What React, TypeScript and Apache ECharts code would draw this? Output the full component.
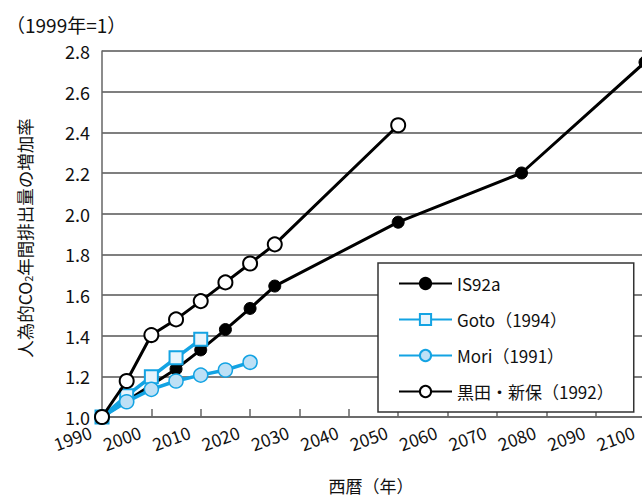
import React, { useEffect, useRef } from "react";
import * as echarts from "echarts";

const FONT = '"Noto Sans CJK JP", "Noto Sans", sans-serif';

const seriesNames = ["IS92a", "Goto（1994）", "Mori（1991）", "黒田・新保（1992）"];

const is92aYears = [1990, 2005, 2010, 2015, 2020, 2025, 2050, 2075, 2100];
const is92aValues = [1.0, 1.236, 1.33, 1.43, 1.534, 1.644, 1.958, 2.2, 2.745];

const gotoYears = [1990, 1995, 2000, 2005, 2010];
const gotoValues = [1.0, 1.105, 1.198, 1.291, 1.382];

const moriYears = [1990, 1995, 2000, 2005, 2010, 2015, 2020];
const moriValues = [1.0, 1.075, 1.136, 1.177, 1.206, 1.231, 1.269];

const kurodaYears = [1990, 1995, 2000, 2005, 2010, 2015, 2020, 2025, 2050];
const kurodaValues = [1.0, 1.177, 1.403, 1.48, 1.57, 1.662, 1.755, 1.849, 2.435];

const xMin = 1990;
const xMax = 2100;
const xStep = 10;
const yMin = 1.0;
const yMax = 2.8;
const yStep = 0.2;

const yTitle = "（1999年=1）";
const xName = "西暦（年）";

const pair = (xs: number[], ys: number[]) => xs.map((x, i) => [x, ys[i]]);

export default function App() {
  const ref = useRef<HTMLDivElement>(null);
  useEffect(() => {
    if (!ref.current) return;
    const chart = echarts.init(ref.current, null, { renderer: "svg" });
    const cyan = "#13a3e3";
    chart.setOption({
      animation: false,
      backgroundColor: "#ffffff",
      textStyle: { fontFamily: FONT },
      grid: { left: 102, right: -3, top: 51, bottom: 80, outerBoundsMode: "none", containLabel: false },
      xAxis: {
        type: "value",
        min: xMin,
        max: xMax,
        interval: xStep,
        axisLine: { show: true, lineStyle: { color: "#666", width: 1.5 } },
        axisTick: { show: true, inside: true, length: 8, lineStyle: { color: "#666", width: 1.5 } },
        splitLine: { show: false },
        axisLabel: {
          rotate: 20,
          fontSize: 17.5,
          color: "#111",
          fontFamily: FONT,
          margin: 10,
          padding: [15, 12, 0, 0],
          hideOverlap: false,
          formatter: (v: number) => String(v),
        },
      },
      yAxis: {
        type: "value",
        min: yMin,
        max: yMax,
        interval: yStep,
        axisLine: { show: true, lineStyle: { color: "#666", width: 1.5 } },
        axisTick: { show: false },
        splitLine: { show: true, lineStyle: { color: "#555", width: 1.5 } },
        axisLabel: {
          fontSize: 18,
          color: "#111",
          fontFamily: FONT,
          margin: 12,
          formatter: (v: number) => v.toFixed(1),
        },
      },
      legend: {
        orient: "vertical",
        left: 378,
        top: 263,
        backgroundColor: "#fff",
        borderColor: "#333",
        borderWidth: 1.5,
        padding: [12, 20, 12, 20],
        itemWidth: 53,
        itemHeight: 14,
        itemGap: 19,
        textStyle: { fontSize: 17, color: "#111", fontFamily: FONT },
        data: seriesNames,
      },
      graphic: [
        {
          type: "text",
          left: 6,
          top: 15,
          style: { text: yTitle, fontSize: 19, fill: "#111", fontFamily: FONT },
        },
        {
          type: "text",
          x: 23,
          y: 238,
          rotation: Math.PI / 2,
          style: {
            text: "{a|人為的CO}{s|2}{a|年間排出量の増加率}",
            align: "center",
            verticalAlign: "middle",
            fontFamily: FONT,
            rich: {
              a: { fontSize: 17.5, fill: "#111", fontFamily: FONT, lineHeight: 20, verticalAlign: "bottom" },
              s: { fontSize: 11, fill: "#111", fontFamily: FONT, lineHeight: 20, verticalAlign: "bottom" },
            },
          },
        },
        {
          type: "text",
          x: 371,
          y: 485,
          style: { text: xName, fontSize: 17, fill: "#111", fontFamily: FONT, align: "center", verticalAlign: "middle" },
        },
      ],
      series: [
        {
          name: seriesNames[0],
          type: "line",
          data: pair(is92aYears, is92aValues),
          symbol: "circle",
          symbolSize: 12,
          lineStyle: { color: "#000", width: 3 },
          itemStyle: { color: "#000", borderColor: "#000", borderWidth: 1 },
          z: 2,
        },
        {
          name: seriesNames[1],
          type: "line",
          data: pair(gotoYears, gotoValues),
          symbol: "rect",
          symbolSize: 13,
          lineStyle: { color: cyan, width: 3.5 },
          itemStyle: { color: "#e8f4fc", borderColor: cyan, borderWidth: 2 },
          z: 3,
        },
        {
          name: seriesNames[2],
          type: "line",
          data: pair(moriYears, moriValues),
          symbol: "circle",
          symbolSize: 14,
          lineStyle: { color: cyan, width: 3.5 },
          itemStyle: { color: "#bde0f6", borderColor: cyan, borderWidth: 1.5 },
          z: 4,
        },
        {
          name: seriesNames[3],
          type: "line",
          data: pair(kurodaYears, kurodaValues),
          symbol: "circle",
          symbolSize: 14,
          lineStyle: { color: "#000", width: 3 },
          itemStyle: { color: "#fff", borderColor: "#000", borderWidth: 2 },
          z: 5,
        },
      ],
    });
    return () => chart.dispose();
  }, []);
  return <div ref={ref} style={{ width: 642, height: 497, position: "absolute", left: 0, top: 0 }} />;
}
